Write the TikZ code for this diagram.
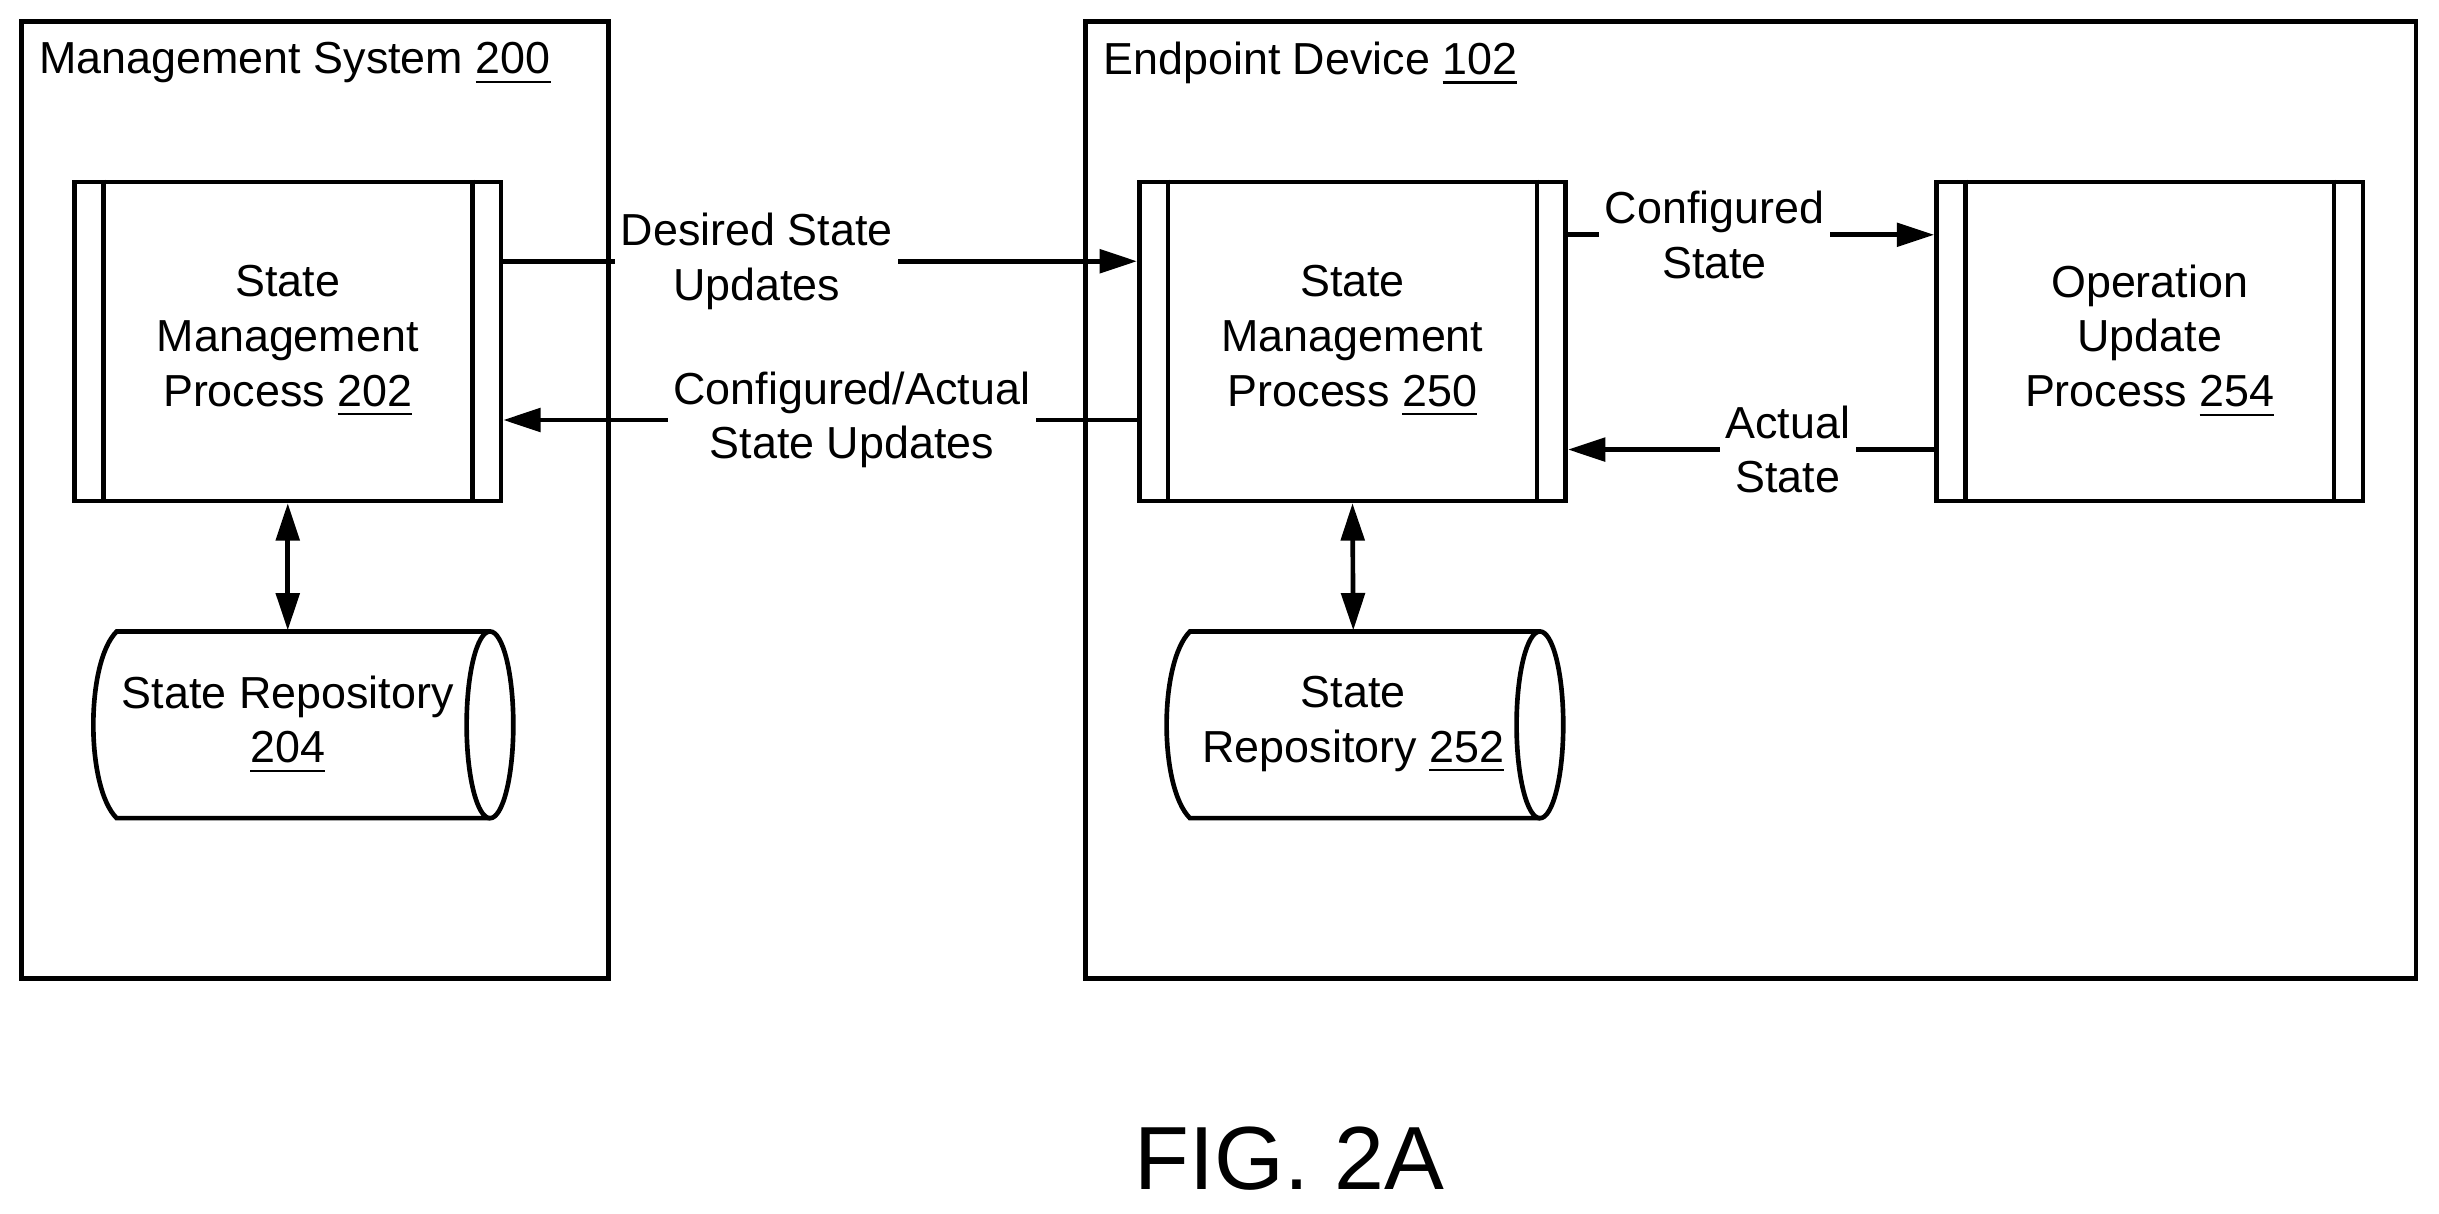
\documentclass[tikz,border=0pt]{standalone}
\usepackage{fontspec}
\setmainfont{Liberation Sans}
\usetikzlibrary{arrows.meta}
\begin{document}
\begin{tikzpicture}[x=0.01cm,y=-0.01cm,
  every node/.style={font=\fontsize{8.2}{10}\selectfont},
  ln/.style={line width=0.85pt},
  arr/.style={ln,-{Triangle[length=0.24cm,width=0.15cm]}},
  darr/.style={ln,{Triangle[length=0.24cm,width=0.15cm]}-{Triangle[length=0.24cm,width=0.15cm]}},
  proc/.style={draw,ln,minimum width=2.74cm,minimum height=2.05cm,align=center,inner sep=0},
  lbl/.style={fill=white,align=center,inner sep=1pt}]
\useasboundingbox (0,0) rectangle (1568,780);
% outer boxes
\node[draw,ln,minimum width=3.77cm,minimum height=6.15cm,inner sep=0] (ms) at (202.5,321.5) {};
\node[draw,ln,minimum width=8.55cm,minimum height=6.15cm,inner sep=0] (ed) at (1125.5,321.5) {};
\node[anchor=west] (mst) at (13,41) {Management System \underline{200}};
\node[anchor=west] (edt) at (697,41) {Endpoint Device \underline{102}};
% processes
\node[proc] (p202) at (185,219.5) {State\\Management\\Process \underline{202}};
\node[proc] (p250) at (869.5,219.5) {State\\Management\\Process \underline{250}};
\node[proc] (p254) at (1382,219.5) {Operation\\Update\\Process \underline{254}};
\foreach \n in {p202,p250,p254}{
  \draw[ln] ([xshift=0.2cm]\n.north west) -- ([xshift=0.2cm]\n.south west);
  \draw[ln] ([xshift=-0.2cm]\n.north east) -- ([xshift=-0.2cm]\n.south east);
}
% cylinders
\node[align=center,minimum width=2.4cm,minimum height=1.2cm,inner sep=0] (r204) at (185,466) {State Repository\\\underline{204}};
\draw[ln] (315,406) -- (75,406) .. controls (55,426) and (55,506) .. (75,526) -- (315,526);
\draw[ln] (315,466) ellipse [x radius=0.15cm, y radius=0.6cm];
\node[align=center,minimum width=2.4cm,minimum height=1.2cm,inner sep=0] (r252) at (870,466) {State\\Repository \underline{252}};
\draw[ln] (990,406) -- (765,406) .. controls (745,426) and (745,506) .. (765,526) -- (990,526);
\draw[ln] (990,466) ellipse [x radius=0.15cm, y radius=0.6cm];
% connectors
\draw[arr] ([yshift=0.515cm]p202.east) -- node[lbl,pos=0.4]{Desired State\\Updates} ([yshift=0.515cm]p250.west);
\draw[arr] ([yshift=-0.505cm]p250.west) -- node[lbl,pos=0.45]{Configured/Actual\\State Updates} ([yshift=-0.505cm]p202.east);
\draw[arr] ([yshift=0.685cm]p250.east) -- node[lbl,pos=0.4]{Configured\\State} ([yshift=0.685cm]p254.west);
\draw[arr] ([yshift=-0.695cm]p254.west) -- node[lbl,pos=0.4]{Actual\\State} ([yshift=-0.695cm]p250.east);
\draw[darr] (p202.south) -- (r204.north);
\draw[darr] (p250.south) -- (r252.north);
\node[font=\fontsize{16.4}{18}\selectfont] (fig) at (829,745) {FIG. 2A};
\end{tikzpicture}
\end{document}
